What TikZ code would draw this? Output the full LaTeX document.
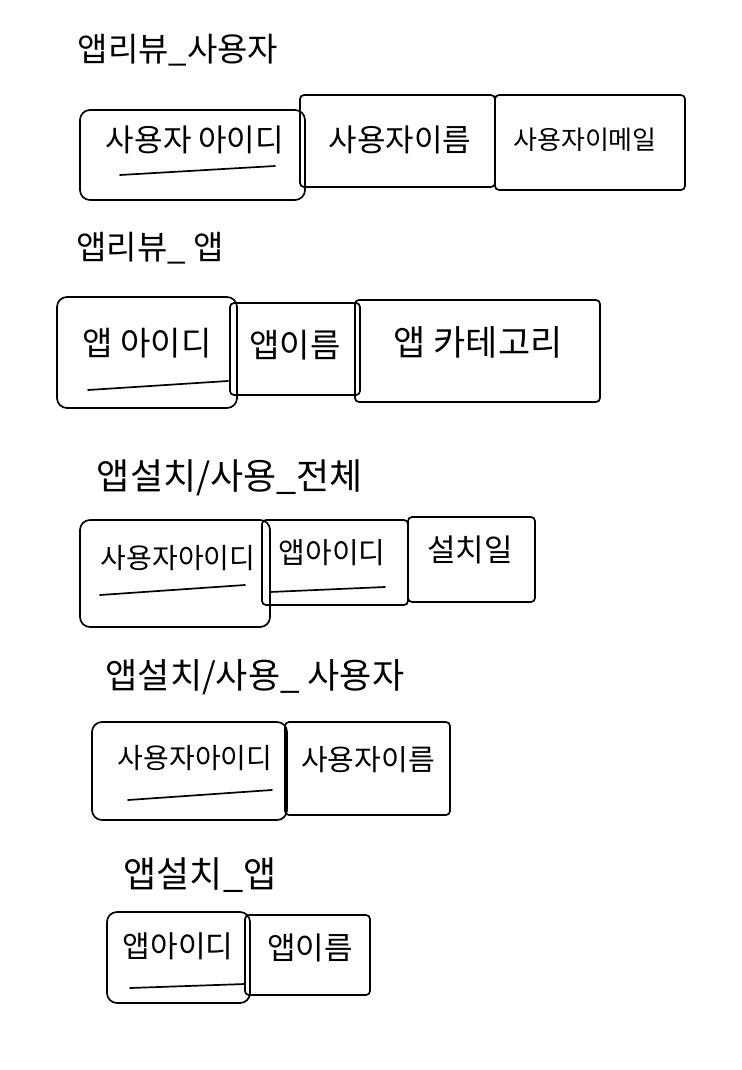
\documentclass[tikz,border=0pt]{standalone}
\usepackage{fontspec}
\newfontfamily\kr{Noto Sans CJK KR}
\begin{document}
\begin{tikzpicture}[x=1pt,y=-1pt,
  tbox/.style={draw=black,line width=1.7pt,rounded corners=4pt,inner sep=0pt},
  kbox/.style={tbox,rounded corners=10pt},
  ttl/.style={font=\kr\fontsize{#1}{#1}\selectfont,inner sep=0pt},
  lbl/.style={font=\kr\fontsize{#1}{#1}\selectfont,inner sep=0pt},
  uline/.style={line width=1.7pt,line cap=round}]
\useasboundingbox (0,0) rectangle (741,1070);
% ---- table 1
\node[ttl=33] (t1) at (178,50) {앱리뷰\_사용자};
\node[kbox,minimum width=225,minimum height=90] (a1) at (192.5,155) {};
\node[tbox,minimum width=195,minimum height=92] (a2) at (397.5,141) {};
\node[tbox,minimum width=190,minimum height=95] (a3) at (590,142.5) {};
\node[lbl=31] (a1t) at (195,140) {사용자 아이디};
\node[lbl=31] (a2t) at (400,140) {사용자이름};
\node[lbl=26] (a3t) at (585,140) {사용자이메일};
\draw[uline] (120,175) -- (275,166);
% ---- table 2
\node[ttl=33] (t2) at (150,248) {앱리뷰\_ 앱};
\node[kbox,minimum width=180,minimum height=111] (b1) at (147,352.5) {};
\node[tbox,minimum width=130,minimum height=92] (b2) at (295,349) {};
\node[tbox,minimum width=245,minimum height=102] (b3) at (477.5,351) {};
\node[lbl=33] (b1t) at (147,343) {앱 아이디};
\node[lbl=33] (b2t) at (295,345) {앱이름};
\node[lbl=35] (b3t) at (478,342) {앱 카테고리};
\draw[uline] (88,390) -- (228,381);
% ---- table 3
\node[ttl=36] (t3) at (230,478) {앱설치/사용\_전체};
\node[kbox,minimum width=190,minimum height=107] (c1) at (175,573.5) {};
\node[tbox,minimum width=146,minimum height=85] (c2) at (335,562.5) {};
\node[tbox,minimum width=127,minimum height=85] (c3) at (471.5,559.5) {};
\node[lbl=28] (c1t) at (178,558) {사용자아이디};
\node[lbl=29] (c2t) at (332,553) {앱아이디};
\node[lbl=31] (c3t) at (470,550) {설치일};
\draw[uline] (100,595) -- (245,585);
\draw[uline] (270,592) -- (385,587);
% ---- table 4
\node[ttl=35] (t4) at (255,677) {앱설치/사용\_ 사용자};
\node[kbox,minimum width=195,minimum height=98] (d1) at (189.5,771) {};
\node[tbox,minimum width=165,minimum height=93] (d2) at (367.5,768.5) {};
\node[lbl=28] (d1t) at (195,758) {사용자아이디};
\node[lbl=29] (d2t) at (368,760) {사용자이름};
\draw[uline] (128,800) -- (272,790);
% ---- table 5
\node[ttl=36] (t5) at (200,875) {앱설치\_앱};
\node[kbox,minimum width=143,minimum height=91] (e1) at (178.5,957.5) {};
\node[tbox,minimum width=125,minimum height=80] (e2) at (307.5,955) {};
\node[lbl=30] (e1t) at (178,946) {앱아이디};
\node[lbl=31] (e2t) at (310,948) {앱이름};
\draw[uline] (130,988) -- (245,984);
\end{tikzpicture}
\end{document}
